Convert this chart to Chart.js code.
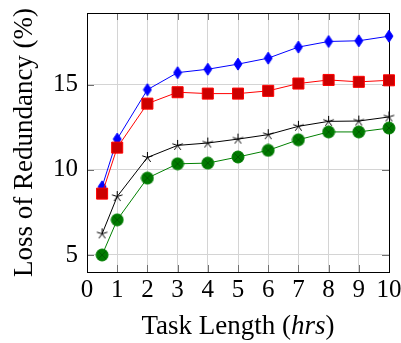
<!DOCTYPE html>
<html>
<head>
<meta charset="utf-8">
<script src="https://cdn.jsdelivr.net/npm/chart.js@4"></script>
<style>
  html, body { margin: 0; padding: 0; background: #fff; }
  #wrap { width: 401px; height: 343px; }
</style>
</head>
<body>
<div id="wrap"><canvas id="chart" width="401" height="343"></canvas></div>
<script>
// task length (hrs)
const taskLength = [0.5, 1, 2, 3, 4, 5, 6, 7, 8, 9, 10];
// loss of redundancy (%) per series
const blueDiamond = [9.0, 11.8, 14.7, 15.7, 15.9, 16.2, 16.55, 17.2, 17.53, 17.57, 17.84];
const redSquare   = [8.6, 11.3, 13.88, 14.55, 14.47, 14.47, 14.63, 15.06, 15.27, 15.16, 15.25];
const blackStar   = [6.24, 8.43, 10.72, 11.43, 11.57, 11.8, 12.06, 12.55, 12.84, 12.86, 13.1];
const greenCircle = [5.0, 7.06, 9.51, 10.35, 10.39, 10.75, 11.14, 11.76, 12.22, 12.22, 12.45];
const xTicks = [0, 1, 2, 3, 4, 5, 6, 7, 8, 9, 10];
const yTicks = [5, 10, 15];

const serif = "'Liberation Serif', 'Times New Roman', serif";

function makeMark(w, h, draw) {
    const c = document.createElement('canvas');
    c.width = w; c.height = h;
    draw(c.getContext('2d'));
    return c;
}

// tall diamond
const diamondMark = makeMark(10, 14, ctx => {
    ctx.beginPath();
    ctx.moveTo(5, 1); ctx.lineTo(9, 7); ctx.lineTo(5, 13); ctx.lineTo(1, 7);
    ctx.closePath();
    ctx.fillStyle = '#0000ff';
    ctx.fill();
    ctx.strokeStyle = '#0000ff';
    ctx.stroke();
});

// five-arm asterisk
const starMark = makeMark(13, 13, ctx => {
    ctx.strokeStyle = '#000';
    ctx.lineWidth = 1;
    ctx.beginPath();
    for (let i = 0; i < 5; i++) {
        const a = -Math.PI / 2 + i * 2 * Math.PI / 5;
        ctx.moveTo(6.5, 6.5);
        ctx.lineTo(6.5 + 5.5 * Math.cos(a), 6.5 + 5.5 * Math.sin(a));
    }
    ctx.stroke();
});

// circle with a cross inside
const otimesMark = makeMark(14, 14, ctx => {
    ctx.beginPath();
    ctx.arc(7, 7, 6, 0, Math.PI * 2);
    ctx.fillStyle = '#007a00';
    ctx.fill();
    ctx.strokeStyle = '#008000';
    ctx.stroke();
    const r = 6 * Math.SQRT1_2;
    ctx.beginPath();
    ctx.moveTo(7 - r, 7 - r); ctx.lineTo(7 + r, 7 + r);
    ctx.moveTo(7 + r, 7 - r); ctx.lineTo(7 - r, 7 + r);
    ctx.strokeStyle = '#005c00';
    ctx.stroke();
});

function toPoints(ys) {
    return taskLength.map((x, i) => ({ x: x, y: ys[i] }));
}

// frame + inner tick marks, drawn under the marks
const framePlugin = {
    id: 'frame',
    beforeDatasetsDraw(chart) {
        const { ctx, chartArea: a, scales } = chart;
        ctx.save();
        ctx.strokeStyle = '#707070';
        ctx.lineWidth = 1;
        ctx.beginPath();
        xTicks.forEach(v => {
            const px = Math.round(scales.x.getPixelForValue(v)) + 0.5;
            ctx.moveTo(px, a.bottom); ctx.lineTo(px, a.bottom - 7);
            ctx.moveTo(px, a.top); ctx.lineTo(px, a.top + 7);
        });
        yTicks.forEach(v => {
            const py = Math.round(scales.y.getPixelForValue(v)) + 0.5;
            ctx.moveTo(a.left, py); ctx.lineTo(a.left + 7, py);
            ctx.moveTo(a.right, py); ctx.lineTo(a.right - 7, py);
        });
        ctx.stroke();
        ctx.strokeStyle = '#000';
        ctx.strokeRect(Math.round(a.left) + 0.5, Math.round(a.top) + 0.5,
            Math.round(a.right - a.left), Math.round(a.bottom - a.top));
        ctx.restore();
    },
    afterDraw(chart) {
        // x title with italic unit
        const { ctx, chartArea: a } = chart;
        const parts = [
            { t: 'Task Length (', f: '27px ' + serif },
            { t: 'hrs', f: 'italic 27px ' + serif },
            { t: ')', f: '27px ' + serif }
        ];
        ctx.save();
        let total = 0;
        parts.forEach(p => { ctx.font = p.f; p.w = ctx.measureText(p.t).width; total += p.w; });
        let x = (a.left + a.right) / 2 - total / 2;
        ctx.fillStyle = '#000';
        ctx.textBaseline = 'alphabetic';
        parts.forEach(p => { ctx.font = p.f; ctx.fillText(p.t, x, 334); x += p.w; });
        ctx.restore();
    }
};

const ctx = document.getElementById('chart').getContext('2d');
new Chart(ctx, {
    type: 'line',
    data: {
        datasets: [
            {
                data: toPoints(blueDiamond), borderColor: '#0000ff', borderWidth: 1,
                pointStyle: diamondMark, order: 4, clip: false
            },
            {
                data: toPoints(redSquare), borderColor: '#ff0000', borderWidth: 1,
                pointStyle: 'rect', pointRadius: 7.8, pointBackgroundColor: '#cc0000',
                pointBorderColor: '#ff0000', pointBorderWidth: 1, order: 3, clip: false
            },
            {
                data: toPoints(blackStar), borderColor: '#000000', borderWidth: 1,
                pointStyle: starMark, order: 2, clip: false
            },
            {
                data: toPoints(greenCircle), borderColor: '#008000', borderWidth: 1,
                pointStyle: otimesMark, order: 1, clip: false
            }
        ]
    },
    options: {
        responsive: false,
        animation: false,
        layout: { padding: { left: 0, right: 12, top: 13, bottom: 0 } },
        plugins: { legend: { display: false }, tooltip: { enabled: false } },
        elements: { line: { tension: 0, fill: false } },
        scales: {
            x: {
                type: 'linear',
                min: 0,
                max: 10,
                afterBuildTicks: scale => { scale.ticks = xTicks.map(v => ({ value: v })); },
                afterFit: scale => {
                    scale.height = 71;
                    scale.paddingLeft = 0;
                    scale.paddingRight = 0;
                },
                ticks: { color: '#000', padding: 3, font: { family: serif, size: 25 }, maxRotation: 0 },
                grid: { color: '#d4d4d4', drawTicks: false },
                border: { display: false }
            },
            y: {
                min: 4.0,
                max: 19.2,
                afterBuildTicks: scale => { scale.ticks = yTicks.map(v => ({ value: v })); },
                afterFit: scale => {
                    scale.width = 87;
                    scale.paddingTop = 0;
                    scale.paddingBottom = 0;
                },
                ticks: { color: '#000', padding: 9, font: { family: serif, size: 25 } },
                grid: { color: '#d4d4d4', drawTicks: false },
                border: { display: false },
                title: {
                    display: true,
                    text: 'Loss of Redundancy (%)',
                    color: '#000',
                    font: { family: serif, size: 27 },
                    padding: { top: 9, bottom: 0 }
                }
            }
        }
    },
    plugins: [framePlugin]
});
</script>
</body>
</html>
